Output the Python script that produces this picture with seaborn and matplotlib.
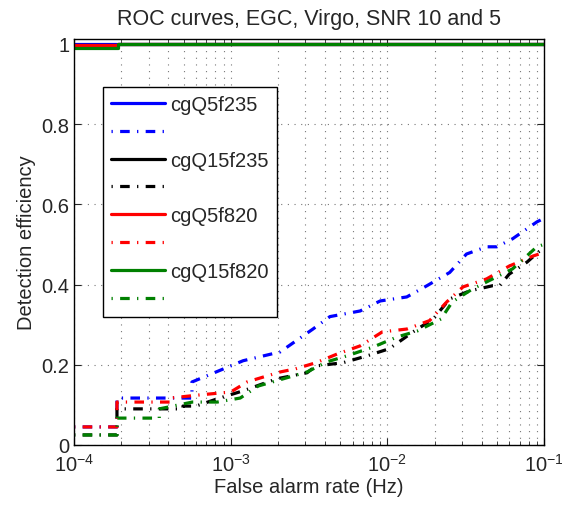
import numpy as np
import pandas as pd
import seaborn as sns
import matplotlib.pyplot as plt

# ROC curves
names = ["cgQ5f235", "cgQ15f235", "cgQ5f820", "cgQ15f820"]
colors = ["#0000ff", "#000000", "#ff0000", "#008000"]

# solid curves (SNR 10)
fa_hi = [1e-4, 1.9e-4, 1.9e-4, 1e-1]
eff_hi = {
    "cgQ5f235": [1.0, 1.0, 1.0, 1.0],
    "cgQ15f235": [0.996, 0.996, 1.0, 1.0],
    "cgQ5f820": [0.996, 0.996, 1.0, 1.0],
    "cgQ15f820": [0.99, 0.99, 1.0, 1.0],
}

# dash-dot curves (SNR 5)
fa_q5f235 = [1e-4, 1.88e-4, 1.88e-4, 5.66e-4, 5.66e-4, 1.2e-3, 2.07e-3, 3.35e-3,
             4.3e-3, 6.7e-3, 9e-3, 1.33e-2, 1.79e-2, 2.5e-2, 3.2e-2, 4.3e-2,
             5e-2, 6.3e-2, 9e-2, 1e-1]
eff_q5f235 = [0.045, 0.045, 0.117, 0.117, 0.157, 0.21, 0.232, 0.289,
              0.32, 0.334, 0.359, 0.369, 0.397, 0.43, 0.476, 0.494,
              0.494, 0.514, 0.556, 0.565]

fa_q15f235 = [1e-4, 1.88e-4, 1.88e-4, 4.96e-4, 4.96e-4, 6e-4, 8.5e-4, 1.2e-3,
              1.97e-3, 3.07e-3, 3.5e-3, 5.2e-3, 7.4e-3, 1.03e-2, 1.46e-2,
              1.96e-2, 2.5e-2, 3.35e-2, 4.7e-2, 5.2e-2, 6e-2, 7.8e-2, 9.2e-2, 1e-1]
eff_q15f235 = [0.025, 0.025, 0.09, 0.09, 0.097, 0.097, 0.117, 0.135,
               0.165, 0.18, 0.197, 0.205, 0.222, 0.24, 0.282,
               0.314, 0.364, 0.384, 0.397, 0.397, 0.426, 0.456, 0.481, 0.49]

fa_q5f820 = [1e-4, 1.88e-4, 1.88e-4, 4.1e-4, 4.1e-4, 6.4e-4, 1e-3, 1.27e-3,
             1.7e-3, 2.07e-3, 2.6e-3, 3.5e-3, 4.8e-3, 6.7e-3, 9.3e-3, 1.33e-2,
             1.86e-2, 2.4e-2, 3.04e-2, 4.3e-2, 6e-2, 8.5e-2, 1e-1]
eff_q5f820 = [0.045, 0.045, 0.107, 0.107, 0.117, 0.125, 0.132, 0.157,
              0.172, 0.182, 0.19, 0.205, 0.227, 0.247, 0.282, 0.289,
              0.31, 0.357, 0.394, 0.414, 0.446, 0.471, 0.48]

fa_q15f820 = [1e-4, 1.88e-4, 1.88e-4, 3.5e-4, 3.5e-4, 5.7e-4, 8.2e-4, 1.15e-3,
              1.5e-3, 2.5e-3, 3.07e-3, 4.1e-3, 5.5e-3, 8.1e-3, 1.15e-2, 1.55e-2,
              2.2e-2, 2.6e-2, 3.5e-2, 4.7e-2, 6.3e-2, 9e-2, 1e-1]
eff_q15f820 = [0.025, 0.025, 0.067, 0.067, 0.09, 0.107, 0.107, 0.117,
               0.147, 0.172, 0.182, 0.207, 0.222, 0.244, 0.269, 0.284,
               0.314, 0.357, 0.389, 0.414, 0.439, 0.494, 0.5]

fa_lo = {"cgQ5f235": fa_q5f235, "cgQ15f235": fa_q15f235,
         "cgQ5f820": fa_q5f820, "cgQ15f820": fa_q15f820}
eff_lo = {"cgQ5f235": eff_q5f235, "cgQ15f235": eff_q15f235,
          "cgQ5f820": eff_q5f820, "cgQ15f820": eff_q15f820}

sns.set_style("ticks")
plt.rcParams["font.family"] = ["Liberation Sans", "DejaVu Sans"]
plt.rcParams["mathtext.fontset"] = "custom"
plt.rcParams["mathtext.rm"] = "Liberation Sans"
plt.rcParams["mathtext.default"] = "regular"

fig = plt.figure(figsize=(5.62, 5.06), dpi=100)
ax = fig.add_axes([0.1317, 0.1186, 0.8363, 0.8024])

# matlab style '-.' : starts on the dot
dashdot = (5.3, (3.0, 2.3, 0.4, 2.3))
for name, col in zip(names, colors):
    sns.lineplot(x=fa_hi, y=eff_hi[name], ax=ax, color=col, lw=2.3,
                 estimator=None, sort=False, label=name)
    sns.lineplot(x=fa_lo[name], y=eff_lo[name], ax=ax, color=col, lw=2.3,
                 estimator=None, sort=False, linestyle=dashdot, label="_" + name)

ax.set_xscale("log")
ax.set_xlim(1e-4, 1e-1)
ax.set_ylim(0, 1.012)
ax.set_yticks([0, 0.2, 0.4, 0.6, 0.8, 1])
ax.set_yticklabels(["0", "0.2", "0.4", "0.6", "0.8", "1"])
ax.grid(which="both", axis="x", color="#777777", linestyle=(0, (1, 5)), lw=0.8)
ax.grid(which="major", axis="y", color="#777777", linestyle=(0, (1, 5)), lw=0.8)
ax.tick_params(which="both", direction="in", top=True, right=True, labelsize=14.5)
ax.tick_params(which="major", length=5)
ax.tick_params(which="minor", length=3)
ax.tick_params(axis="x", pad=6)
for s in ax.spines.values():
    s.set_linewidth(1.0)
    s.set_color("black")

ax.set_xlabel("False alarm rate (Hz)", fontsize=14.5, labelpad=1)
ax.set_ylabel("Detection efficiency", fontsize=14.5, labelpad=4)
ax.set_title("ROC curves, EGC, Virgo, SNR 10 and 5", fontsize=15.5, pad=11)

lines = ax.get_lines()
labels = []
for name in names:
    labels += [name, ""]
leg = ax.legend(lines[:8], labels, loc="upper left", bbox_to_anchor=(0.062, 0.882),
                borderaxespad=0, fontsize=14.5, handlelength=2.65, labelspacing=0.44,
                borderpad=0.4, handletextpad=0.3, frameon=True, fancybox=False,
                edgecolor="black", framealpha=1)
leg.get_frame().set_linewidth(1.0)

fig.savefig("out.png", dpi=100)
